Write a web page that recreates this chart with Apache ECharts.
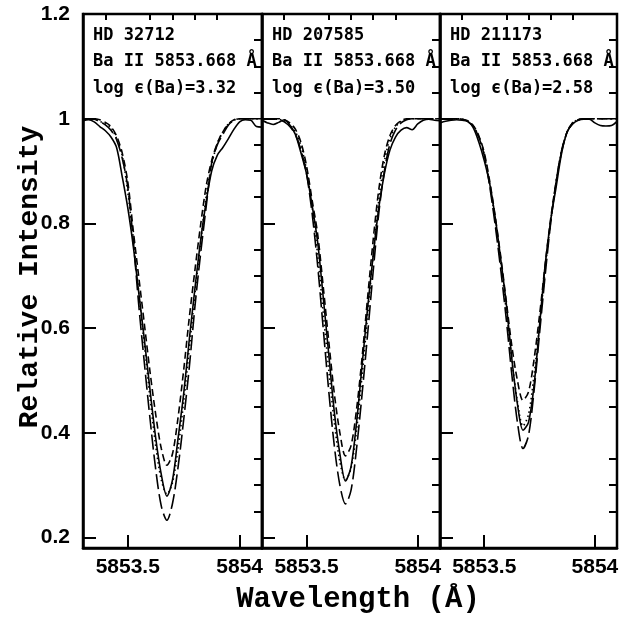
<!DOCTYPE html>
<html><head><meta charset="utf-8">
<script src="https://cdn.jsdelivr.net/npm/echarts@6/dist/echarts.min.js"></script>
<style>html,body{margin:0;padding:0;background:#fff}#c{width:630px;height:619px}</style>
</head><body><div id="c"></div>
<script>
// Wavelength grid (Å)
const wave = [5853.3,5853.325,5853.35,5853.375,5853.4,5853.425,5853.45,5853.475,5853.5,5853.525,5853.55,5853.575,5853.6,5853.625,5853.65,5853.675,5853.7,5853.725,5853.75,5853.775,5853.8,5853.825,5853.85,5853.875,5853.9,5853.925,5853.95,5853.975,5854.0,5854.025,5854.05,5854.075,5854.1];

// Panel 1: HD 32712
const obs1 = [0.996,0.998,0.994,0.985,0.977,0.965,0.945,0.89,0.83,0.755,0.665,0.575,0.48,0.39,0.32,0.279,0.31,0.39,0.475,0.578,0.675,0.765,0.84,0.9,0.93,0.945,0.962,0.98,0.994,0.998,0.997,0.985,0.984];
const dot1 = [1,1,0.999,0.995,0.99,0.983,0.962,0.93,0.86,0.77,0.665,0.565,0.465,0.375,0.31,0.283,0.305,0.37,0.46,0.56,0.665,0.76,0.85,0.912,0.952,0.975,0.99,0.997,1,1,1,1,1];
const sdash1 = [1,1,1,0.998,0.993,0.985,0.967,0.935,0.88,0.785,0.695,0.605,0.515,0.435,0.37,0.338,0.36,0.43,0.52,0.62,0.71,0.795,0.87,0.92,0.953,0.975,0.99,0.998,1,1,1,1,1];
const ldash1 = [1,1,0.999,0.995,0.988,0.978,0.96,0.925,0.87,0.765,0.64,0.53,0.425,0.33,0.26,0.233,0.265,0.335,0.425,0.525,0.64,0.74,0.83,0.915,0.95,0.97,0.988,0.997,1,1,1,1,1];

// Panel 2: HD 207585
const obs2 = [0.997,0.992,0.989,0.993,0.998,0.988,0.97,0.935,0.895,0.835,0.765,0.66,0.55,0.44,0.36,0.308,0.335,0.42,0.53,0.64,0.74,0.83,0.895,0.94,0.965,0.978,0.983,0.979,0.99,0.997,0.999,0.997,0.996];
const dot2 = [1,1,1,0.999,0.996,0.988,0.975,0.948,0.902,0.832,0.74,0.63,0.52,0.42,0.345,0.31,0.332,0.405,0.51,0.625,0.74,0.845,0.918,0.962,0.984,0.995,0.999,1,1,1,1,1,1];
const sdash2 = [1,1,1,1,0.998,0.992,0.98,0.955,0.91,0.845,0.78,0.68,0.575,0.475,0.4,0.356,0.375,0.445,0.545,0.66,0.77,0.865,0.93,0.968,0.987,0.996,1,1,1,1,1,1,1];
const ldash2 = [1,1,1,0.998,0.994,0.985,0.97,0.94,0.895,0.82,0.72,0.6,0.48,0.375,0.3,0.264,0.29,0.37,0.475,0.59,0.71,0.82,0.9,0.952,0.978,0.992,0.998,1,1,1,1,1,1];

// Panel 3: HD 211173
const obs3 = [0.992,0.995,0.997,0.998,0.997,0.995,0.983,0.956,0.92,0.875,0.81,0.73,0.645,0.54,0.455,0.405,0.42,0.49,0.605,0.72,0.805,0.87,0.935,0.975,0.99,0.997,0.999,0.999,0.992,0.987,0.986,0.987,0.995];
const dot3 = [1,1,1,1,0.999,0.995,0.986,0.966,0.932,0.875,0.803,0.722,0.632,0.538,0.46,0.413,0.435,0.51,0.607,0.71,0.803,0.88,0.938,0.975,0.992,0.998,1,1,1,1,1,1,1];
const sdash3 = [1,1,1,1,0.999,0.996,0.987,0.968,0.935,0.88,0.812,0.735,0.65,0.565,0.5,0.462,0.478,0.54,0.625,0.72,0.808,0.88,0.938,0.975,0.992,0.998,1,1,1,1,1,1,1];
const ldash3 = [1,1,1,1,0.999,0.995,0.985,0.965,0.93,0.87,0.795,0.71,0.615,0.51,0.42,0.37,0.395,0.48,0.59,0.7,0.8,0.88,0.94,0.975,0.992,0.998,1,1,1,1,1,1,1];

const stars = ['HD 32712','HD 207585','HD 211173'];
const lineLabel = 'Ba II 5853.668 Å';
const abund = ['log \u03f5(Ba)=3.32','log \u03f5(Ba)=3.50','log \u03f5(Ba)=2.58'];

const xMajor = [5853.5, 5854];
const xMinor = [5853.4, 5853.6, 5853.7, 5853.8, 5853.9];
const yMajor = [0.2, 0.4, 0.6, 0.8, 1, 1.2];
const yMinor = [0.25,0.3,0.35,0.45,0.5,0.55,0.65,0.7,0.75,0.85,0.9,0.95,1.05,1.1,1.15];

const panels = [
  {obs: obs1, dot: dot1, sd: sdash1, ld: ldash1},
  {obs: obs2, dot: dot2, sd: sdash2, ld: ldash2},
  {obs: obs3, dot: dot3, sd: sdash3, ld: ldash3}
];

const gridBoxes = [[83,179],[262,178],[440,177]];
const XMIN = 5853.3, XMAX = 5854.1, YMIN = 0.18, YMAX = 1.2;
const numFont = 'Liberation Sans';

const grids = [], xAxes = [], yAxes = [], series = [], graphics = [];
gridBoxes.forEach((b, i) => {
  grids.push({left: b[0], top: 14, width: b[1], height: 534, show: true, borderColor: '#000', borderWidth: 2.5,
    backgroundColor: 'transparent', containLabel: false, outerBoundsMode: 'none'});
  xAxes.push({
    gridIndex: i, type: 'value', min: XMIN, max: XMAX,
    axisLine: {show: true, lineStyle: {color: '#000', width: 2.5}},
    axisTick: {show: true, inside: true, length: 13, customValues: xMajor, lineStyle: {color: '#000', width: 2}},
    axisLabel: {show: true, customValues: xMajor, formatter: v => String(v), color: '#000', fontFamily: numFont, fontWeight: 'bold', fontSize: 21, margin: 9},
    splitLine: {show: false}
  });
  xAxes.push({
    gridIndex: i, type: 'value', min: XMIN, max: XMAX,
    axisLine: {show: false},
    axisTick: {show: true, inside: true, length: 6, customValues: xMinor, lineStyle: {color: '#000', width: 2}},
    axisLabel: {show: false}, splitLine: {show: false}
  });
  yAxes.push({
    gridIndex: i, type: 'value', min: YMIN, max: YMAX,
    axisLine: {show: true, lineStyle: {color: '#000', width: 2.5}},
    axisTick: {show: true, inside: true, length: 13, customValues: yMajor, lineStyle: {color: '#000', width: 2}},
    axisLabel: {show: i === 0, customValues: yMajor, formatter: v => String(v), color: '#000', fontFamily: numFont, fontWeight: 'bold', fontSize: 21, margin: 13},
    splitLine: {show: false}
  });
  yAxes.push({
    gridIndex: i, type: 'value', min: YMIN, max: YMAX,
    axisLine: {show: false},
    axisTick: {show: true, inside: true, length: 8, customValues: yMinor, lineStyle: {color: '#000', width: 2}},
    axisLabel: {show: false}, splitLine: {show: false}
  });
  const p = panels[i];
  const mk = (arr, type, w) => ({
    type: 'line', xAxisIndex: 2*i, yAxisIndex: 2*i, data: wave.map((x, k) => [x, arr[k]]),
    showSymbol: false, smooth: 0.3, silent: true, animation: false,
    lineStyle: {color: '#000', width: w, type: type}
  });
  series.push(mk(p.obs, 'solid', 1.6));
  series.push(mk(p.dot, [1.5, 3], 1.6));
  series.push(mk(p.sd, [7, 4], 1.6));
  series.push(mk(p.ld, [15, 5], 1.6));
  const tx = b[0] + 10;
  [stars[i], lineLabel, abund[i]].forEach((t, j) => {
    graphics.push({type: 'text', left: tx, top: 27 + j * 26.5,
      style: {text: t, fill: '#000', font: 'bold 17px "DejaVu Sans Mono"'}});
  });
});

// Axis titles
graphics.push({type: 'text', x: 358, y: 600,
  style: {text: 'Wavelength (Å)', fill: '#000', font: 'bold 29px "Liberation Mono"', align: 'center', verticalAlign: 'middle'}});
graphics.push({type: 'text', x: 30, y: 277, rotation: Math.PI / 2,
  style: {text: 'Relative Intensity', fill: '#000', font: 'bold 28px "Liberation Mono"', align: 'center', verticalAlign: 'middle'}});

const chart = echarts.init(document.getElementById('c'), null, {renderer: 'canvas'});
chart.setOption({
  animation: false,
  backgroundColor: '#fff',
  grid: grids, xAxis: xAxes, yAxis: yAxes, series: series, graphic: graphics
});
</script></body></html>
